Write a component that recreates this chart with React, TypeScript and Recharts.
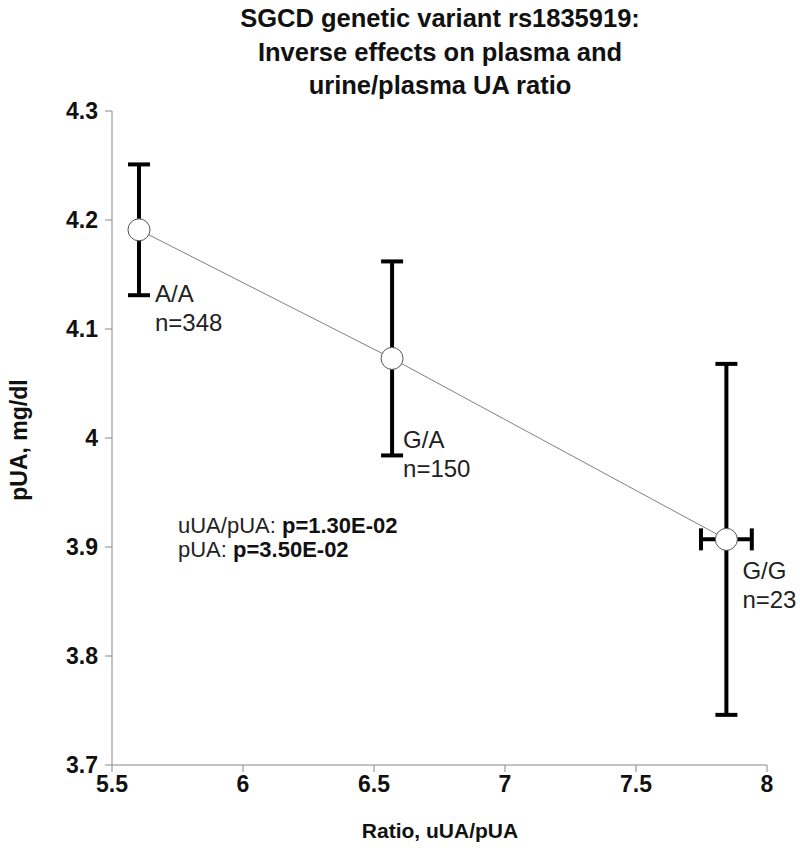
import React from 'react';
import { ScatterChart, Scatter, XAxis, YAxis, ErrorBar, Customized } from 'recharts';

const genotypes = ['A/A', 'G/A', 'G/G'];
const counts = [348, 150, 23];
const ratioMeans = [5.603, 6.569, 7.845];
const ratioErrors = [0, 0, 0.097];
const pUAMeans = [4.191, 4.073, 3.907];
const pUAErrors = [0.06, 0.089, 0.161];
const xTicks = [5.5, 6, 6.5, 7, 7.5, 8];
const yTicks = [3.7, 3.8, 3.9, 4, 4.1, 4.2, 4.3];
const titleLines = ['SGCD genetic variant rs1835919:', 'Inverse effects on plasma and', 'urine/plasma UA ratio'];
const pLabels = ['uUA/pUA: ', 'pUA: '];
const pValues = ['p=1.30E-02', 'p=3.50E-02'];

// label placement offsets relative to the point (layout only)
const labelOffsets = [
  { dx: 16, dy: 64 },
  { dx: 11, dy: 82 },
  { dx: 16, dy: 32 },
];

const data = genotypes.map((g, i) => ({
  genotype: g,
  n: counts[i],
  x: ratioMeans[i],
  y: pUAMeans[i],
  xErr: ratioErrors[i],
  yErr: pUAErrors[i],
}));

const FONT = '"Liberation Sans", Arial, sans-serif';
const LABEL_FS = 24;

const PointShape = (props: any) => {
  const { cx, cy, index } = props;
  const p = props.payload || data[index];
  const idx = genotypes.indexOf(p.genotype);
  const off = labelOffsets[idx] || { dx: 14, dy: 30 };
  return (
    <g>
      <circle cx={cx} cy={cy} r={11} fill="#fff" stroke="#555" strokeWidth={1} />
      <text x={cx + off.dx} y={cy + off.dy + 8} fontFamily={FONT} fontSize={LABEL_FS} fill="#222">
        {p.genotype}
      </text>
      <text x={cx + off.dx} y={cy + off.dy + 37} fontFamily={FONT} fontSize={LABEL_FS} fill="#222">
        {'n=' + p.n}
      </text>
    </g>
  );
};

const Overlay = () => (
  <g fontFamily={FONT}>
    {titleLines.map((t, i) => (
      <text key={i} x={440} y={27 + i * 33.5} textAnchor="middle" fontSize={25.5} fontWeight="bold" fill="#111">
        {t}
      </text>
    ))}
    <text x={440} y={838} textAnchor="middle" fontSize={21} fontWeight="bold" fill="#111">
      Ratio, uUA/pUA
    </text>
    <text
      x={27}
      y={440}
      textAnchor="middle"
      fontSize={23}
      fontWeight="bold"
      fill="#111"
      transform="rotate(-90 27 440)"
    >
      pUA, mg/dl
    </text>
    {pLabels.map((l, i) => (
      <text key={i} x={178} y={533 + i * 24} fontSize={22} fill="#222">
        {l}
        <tspan fontWeight="bold" fill="#111">{pValues[i]}</tspan>
      </text>
    ))}
  </g>
);

export default function App() {
  return (
    <div style={{ position: 'absolute', left: 0, top: 0, width: 800, height: 858, background: '#fff' }}>
      <ScatterChart width={800} height={858} margin={{ top: 111, right: 33, bottom: 63, left: 52 }}>
        <XAxis
          type="number"
          dataKey="x"
          domain={[5.5, 8]}
          ticks={xTicks}
          height={30}
          tickSize={7}
          tickMargin={4}
          stroke="#888"
          tick={{ fill: '#111', fontSize: 23, fontWeight: 'bold', fontFamily: FONT }}
        />
        <YAxis
          type="number"
          dataKey="y"
          domain={[3.7, 4.3]}
          ticks={yTicks}
          width={60}
          tickSize={7}
          tickMargin={7}
          stroke="#888"
          tick={{ fill: '#111', fontSize: 23, fontWeight: 'bold', fontFamily: FONT }}
        />
        <Scatter
          data={data}
          isAnimationActive={false}
          line={{ stroke: '#808080', strokeWidth: 1 }}
          lineType="joint"
          shape={PointShape}
        >
          <ErrorBar dataKey="yErr" direction="y" width={11} strokeWidth={4} stroke="#000" />
          <ErrorBar dataKey="xErr" direction="x" width={11} strokeWidth={4} stroke="#000" />
        </Scatter>
        <Customized component={Overlay} />
      </ScatterChart>
    </div>
  );
}
